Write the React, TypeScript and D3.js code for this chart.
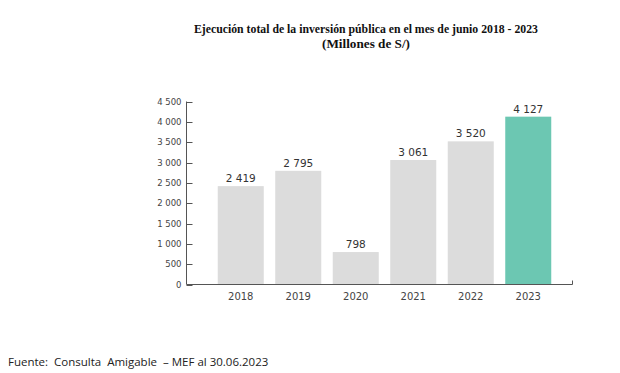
import React from "react";
import * as d3 from "d3";

const years = ["2018", "2019", "2020", "2021", "2022", "2023"];
const values = [2419, 2795, 798, 3061, 3520, 4127];
const yTicks = [0, 500, 1000, 1500, 2000, 2500, 3000, 3500, 4000, 4500];
const titleLines = [
  "Ejecución total de la inversión pública en el mes de junio 2018 - 2023",
  "(Millones de S/)",
];
const titleWidths = [344, 88];
const sourceText = "Fuente:  Consulta  Amigable  – MEF al 30.06.2023";

const fmt = (v: number) => d3.format(",")(v).replace(/,/g, " ");

export default function App() {
  const W = 620;
  const H = 373;
  const axisX = 186.5;
  const axisEnd = 572.5;
  const y0 = 284.5;
  const yTop = 101.5;

  const x = d3.scaleBand<string>().domain(years).range([212, 557]).paddingInner(0.2).paddingOuter(0.1);
  const y = d3.scaleLinear().domain([0, 4500]).range([y0, yTop]);

  return (
    <svg width={W} height={H} style={{ position: "absolute", left: 0, top: 0, background: "#fff" }}>
      <rect x={0} y={0} width={W} height={H} fill="#fff" />
      {titleLines.map((t, i) => (
        <text
          key={i}
          x={366}
          y={33 + i * 15}
          textAnchor="middle"
          fontFamily="'Liberation Serif', serif"
          fontWeight="bold"
          fontSize={12.5}
          textLength={titleWidths[i]}
          lengthAdjust="spacingAndGlyphs"
          fill="#111"
        >
          {t}
        </text>
      ))}
      {years.map((yr, i) => (
        <rect
          key={yr}
          x={x(yr)!}
          y={y(values[i])}
          width={x.bandwidth()}
          height={y0 - y(values[i])}
          fill={i === years.length - 1 ? "#6cc7b2" : "#dcdcdc"}
        />
      ))}
      {years.map((yr, i) => (
        <text
          key={"v" + yr}
          x={x(yr)! + x.bandwidth() / 2}
          y={y(values[i]) - 4}
          textAnchor="middle"
          fontFamily="'DejaVu Sans', sans-serif"
          fontSize={10.5}
          fill="#333"
        >
          {fmt(values[i])}
        </text>
      ))}
      {years.map((yr) => (
        <text
          key={"x" + yr}
          x={x(yr)! + x.bandwidth() / 2}
          y={300}
          textAnchor="middle"
          fontFamily="'DejaVu Sans', sans-serif"
          fontSize={10}
          fill="#444"
        >
          {yr}
        </text>
      ))}
      <line x1={axisX} x2={axisX} y1={yTop} y2={y0} stroke="#555" strokeWidth={1} />
      <line x1={axisX} x2={axisEnd} y1={y0} y2={y0} stroke="#555" strokeWidth={1} />
      <line x1={axisEnd} x2={axisEnd} y1={y0} y2={y0 - 4} stroke="#555" strokeWidth={1} />
      {yTicks.map((t) => (
        <g key={t}>
          <line x1={axisX} x2={axisX + 6} y1={Math.round(y(t)) + 0.5} y2={Math.round(y(t)) + 0.5} stroke="#555" />
          <text
            x={181.5}
            y={y(t) + 3}
            textAnchor="end"
            fontFamily="'DejaVu Sans', sans-serif"
            fontSize={8.5}
            fill="#444"
          >
            {fmt(t)}
          </text>
        </g>
      ))}
      <text x={8} y={366} fontFamily="'Open Sans', 'Liberation Sans', sans-serif" fontSize={11.5} fill="#222" xmlSpace="preserve" style={{ whiteSpace: "pre" }}>
        {sourceText}
      </text>
    </svg>
  );
}
